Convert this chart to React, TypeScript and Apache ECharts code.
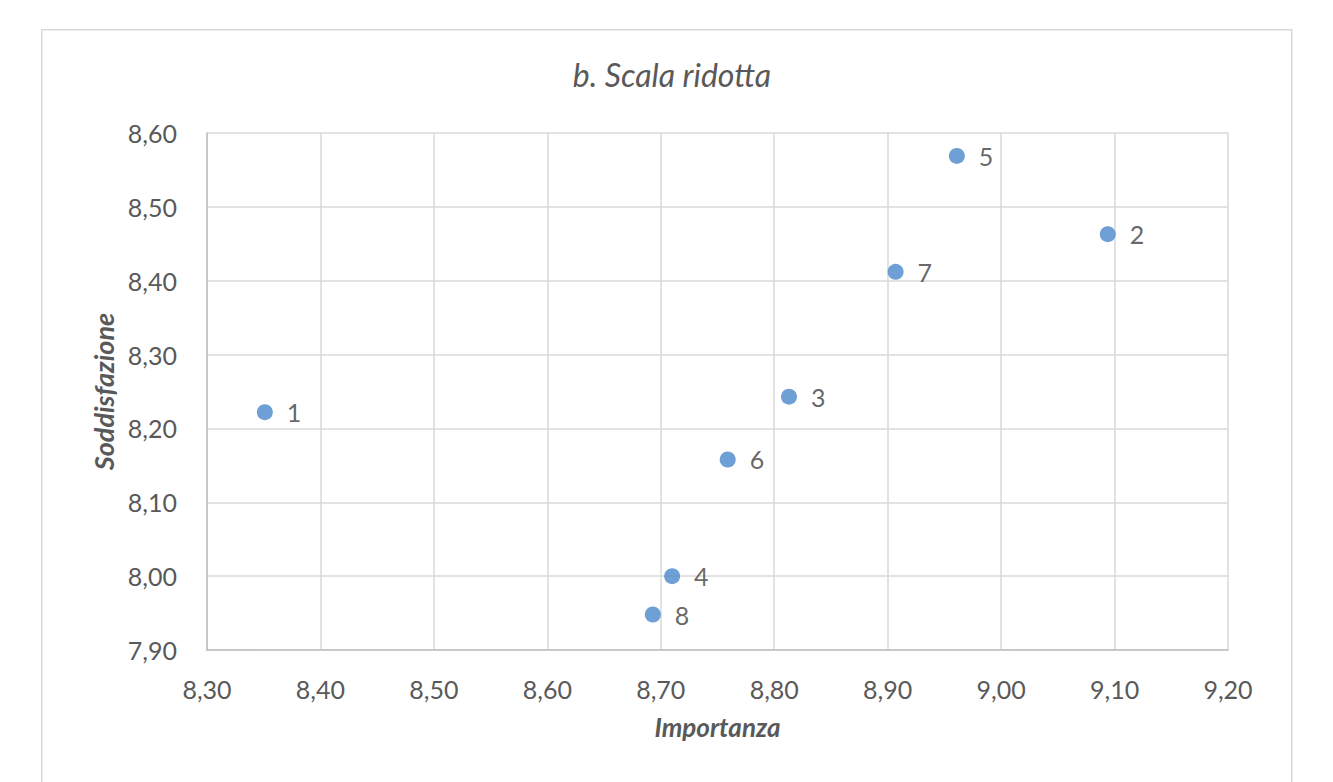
import React, { useEffect, useRef } from "react";
import * as echarts from "echarts";

const pointLabels = ["1", "2", "3", "4", "5", "6", "7", "8"];
const importanza = [8.351, 9.094, 8.813, 8.71, 8.961, 8.759, 8.907, 8.693];
const soddisfazione = [8.222, 8.463, 8.243, 8.0, 8.569, 8.158, 8.412, 7.948];

const FONT = "Lato, 'Open Sans', sans-serif";
const fmt = (v: number) => v.toFixed(2).replace(".", ",");

export default function App() {
  const ref = useRef<HTMLDivElement>(null);
  useEffect(() => {
    if (!ref.current) return;
    const chart = echarts.init(ref.current, undefined, { renderer: "svg" });
    const data = importanza.map((x, i) => ({
      value: [x, soddisfazione[i]],
      name: pointLabels[i],
    }));
    chart.setOption({
      animation: false,
      backgroundColor: "#ffffff",
      graphic: [
        {
          type: "rect",
          left: 41,
          top: 29,
          shape: { width: 1250, height: 760 },
          style: { fill: "#ffffff", stroke: "#d9d9d9", lineWidth: 1.5 },
          z: -10,
        },
      ],
      title: {
        text: "b. Scala ridotta",
        left: 667,
        top: 53,
        textAlign: "center",
        textStyle: {
          fontFamily: FONT,
          fontStyle: "italic",
          fontWeight: "normal",
          fontSize: 32,
          color: "#595959",
        },
      },
      grid: { left: 207, right: 105, top: 133, bottom: 132 },
      xAxis: {
        type: "value",
        min: 8.3,
        max: 9.2,
        interval: 0.1,
        name: "Importanza",
        nameLocation: "middle",
        nameGap: 64,
        nameTextStyle: {
          fontFamily: FONT,
          fontStyle: "italic",
          fontWeight: "bold",
          fontSize: 26,
          color: "#595959",
        },
        axisLine: { show: true, lineStyle: { color: "#bfbfbf", width: 1.5 } },
        axisTick: { show: false },
        axisLabel: {
          formatter: fmt,
          fontFamily: FONT,
          fontSize: 25,
          color: "#595959",
          margin: 26,
        },
        splitLine: { show: true, lineStyle: { color: "#d9d9d9", width: 1.5 } },
      },
      yAxis: {
        type: "value",
        min: 7.9,
        max: 8.6,
        interval: 0.1,
        name: "Soddisfazione",
        nameLocation: "middle",
        nameGap: 85,
        nameRotate: 90,
        nameTextStyle: {
          fontFamily: FONT,
          fontStyle: "italic",
          fontWeight: "bold",
          fontSize: 27,
          color: "#595959",
        },
        axisLine: { show: true, lineStyle: { color: "#bfbfbf", width: 1.5 } },
        axisTick: { show: false },
        axisLabel: {
          formatter: fmt,
          fontFamily: FONT,
          fontSize: 25,
          color: "#595959",
          margin: 30,
        },
        splitLine: { show: true, lineStyle: { color: "#d9d9d9", width: 1.5 } },
      },
      series: [
        {
          type: "scatter",
          data,
          symbolSize: 16,
          itemStyle: { color: "#4a88cc" },
          label: {
            show: true,
            position: "right",
            distance: 14,
            formatter: (p: any) => p.name,
            fontFamily: FONT,
            fontSize: 25,
            color: "#404040",
          },
        },
      ],
    });
    return () => chart.dispose();
  }, []);
  return (
    <div
      ref={ref}
      style={{ position: "fixed", left: 0, top: 0, width: 1333, height: 782 }}
    />
  );
}
